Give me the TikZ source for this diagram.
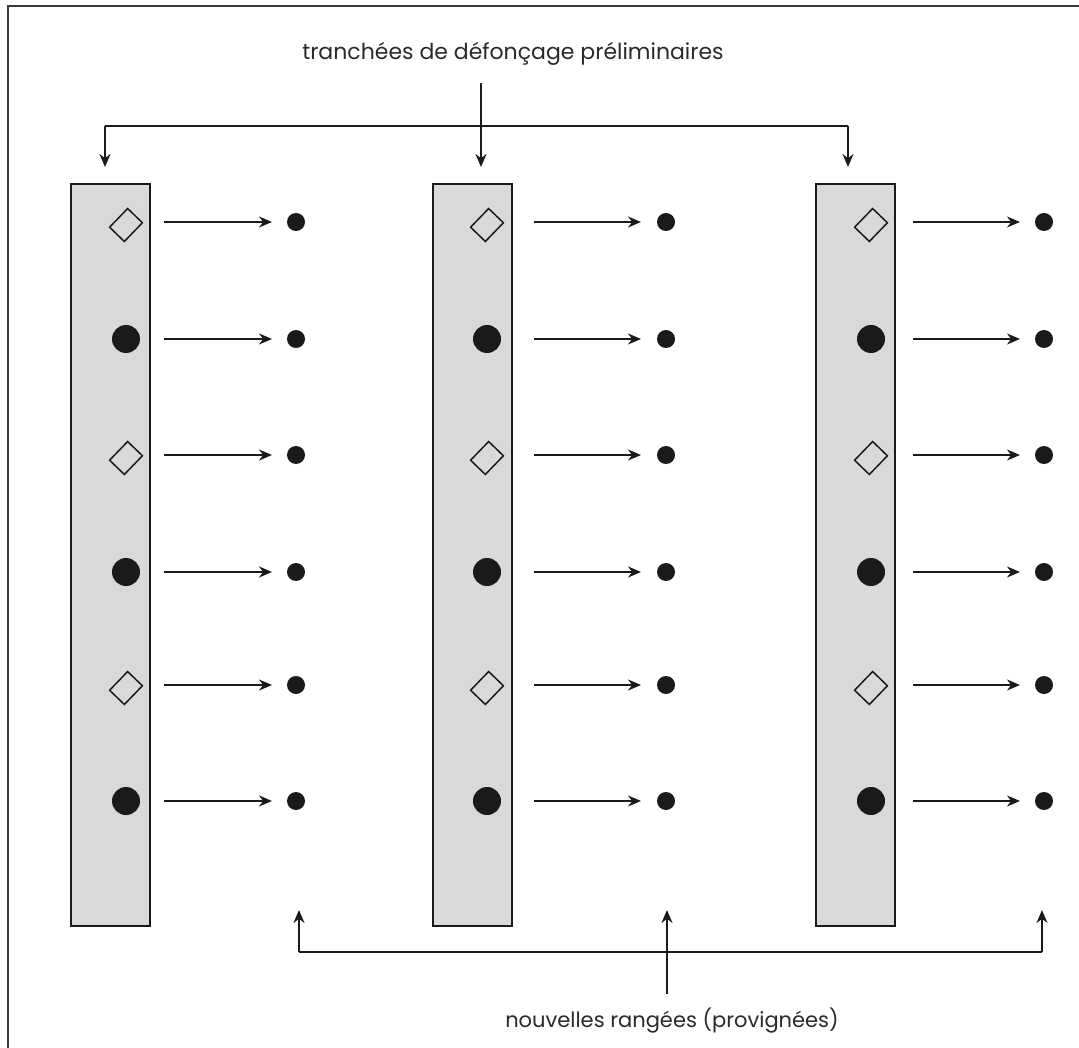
\documentclass[tikz,border=0pt]{standalone}
\usepackage{fontspec}
\setmainfont{Poppins}
\usetikzlibrary{arrows.meta}
\definecolor{bargray}{HTML}{D9D9D9}
\definecolor{ink}{HTML}{1A1A1A}
\definecolor{framec}{HTML}{3A3A3A}
\definecolor{textc}{HTML}{2A2A2A}
\begin{document}
\begin{tikzpicture}[x=1pt,y=-1pt,
  trench/.style={draw=ink,fill=bargray,line width=2pt,minimum width=79pt,minimum height=742pt,inner sep=0pt,anchor=north west},
  oldvine/.style={draw=ink,line width=1.5pt,minimum width=20.5pt,minimum height=26pt,inner sep=0pt,rotate=-44},
  bigdot/.style={circle,fill=ink,minimum size=28pt,inner sep=0pt},
  smalldot/.style={circle,fill=ink,minimum size=18pt,inner sep=0pt},
  conn/.style={draw=ink,line width=2pt,-{Stealth[length=13pt,width=11pt]}},
  bracket/.style={draw=ink,line width=2pt},
  lbl/.style={text=textc,inner sep=0pt}]
\useasboundingbox (0,0) rectangle (1079,1048);
\fill[white] (0,0) rectangle (1079,1048);
\draw[framec,line width=2.5pt] (8,1048) -- (8,6) -- (1079,6);
% trenches
\foreach \b/\bx/\dx/\ax/\ex/\sx in {1/70/126/164/272/296, 2/432/487/534/641/666, 3/815/871/913/1020/1044}{
  \node[trench] (bar\b) at (\bx,183) {};
  \foreach \r/\y/\t in {1/222/d,2/339/c,3/455/d,4/572/c,5/685/d,6/801/c}{
    \if\t d
      \node[oldvine] (v\b\r) at (\dx,\y+3) {};
    \else
      \node[bigdot] (v\b\r) at (\dx,\y) {};
    \fi
    \node[smalldot] (n\b\r) at (\sx,\y) {};
    \coordinate (s\b\r) at (\ax,\y);
    \coordinate (e\b\r) at (\ex,\y);
    \draw[conn] (s\b\r) -- (e\b\r);
  }
}
% top label and bracket
\node[lbl,anchor=base,font=\fontsize{22pt}{26pt}\selectfont] (top) at (513,60) {tranchées de défonçage préliminaires};
\coordinate (tl) at (105,126);
\coordinate (tr) at (848,126);
\coordinate (tm) at (481,83);
\draw[bracket] (tl) -- (tr);
\draw[conn] (tl) -- (tl |- 0,167);
\draw[conn] (tr) -- (tr |- 0,167);
\draw[conn] (tm) -- (tm |- 0,167);
% bottom label and bracket
\node[lbl,anchor=base,font=\fontsize{21pt}{24pt}\selectfont] (bot) at (672,1027) {nouvelles rangées (provignées)};
\coordinate (bl) at (299,952);
\coordinate (br) at (1042,952);
\coordinate (bm) at (667,994);
\draw[bracket] (bl) -- (br);
\draw[conn] (bl) -- (bl |- 0,910);
\draw[conn] (br) -- (br |- 0,910);
\draw[conn] (bm) -- (bm |- 0,910);
\end{tikzpicture}
\end{document}
